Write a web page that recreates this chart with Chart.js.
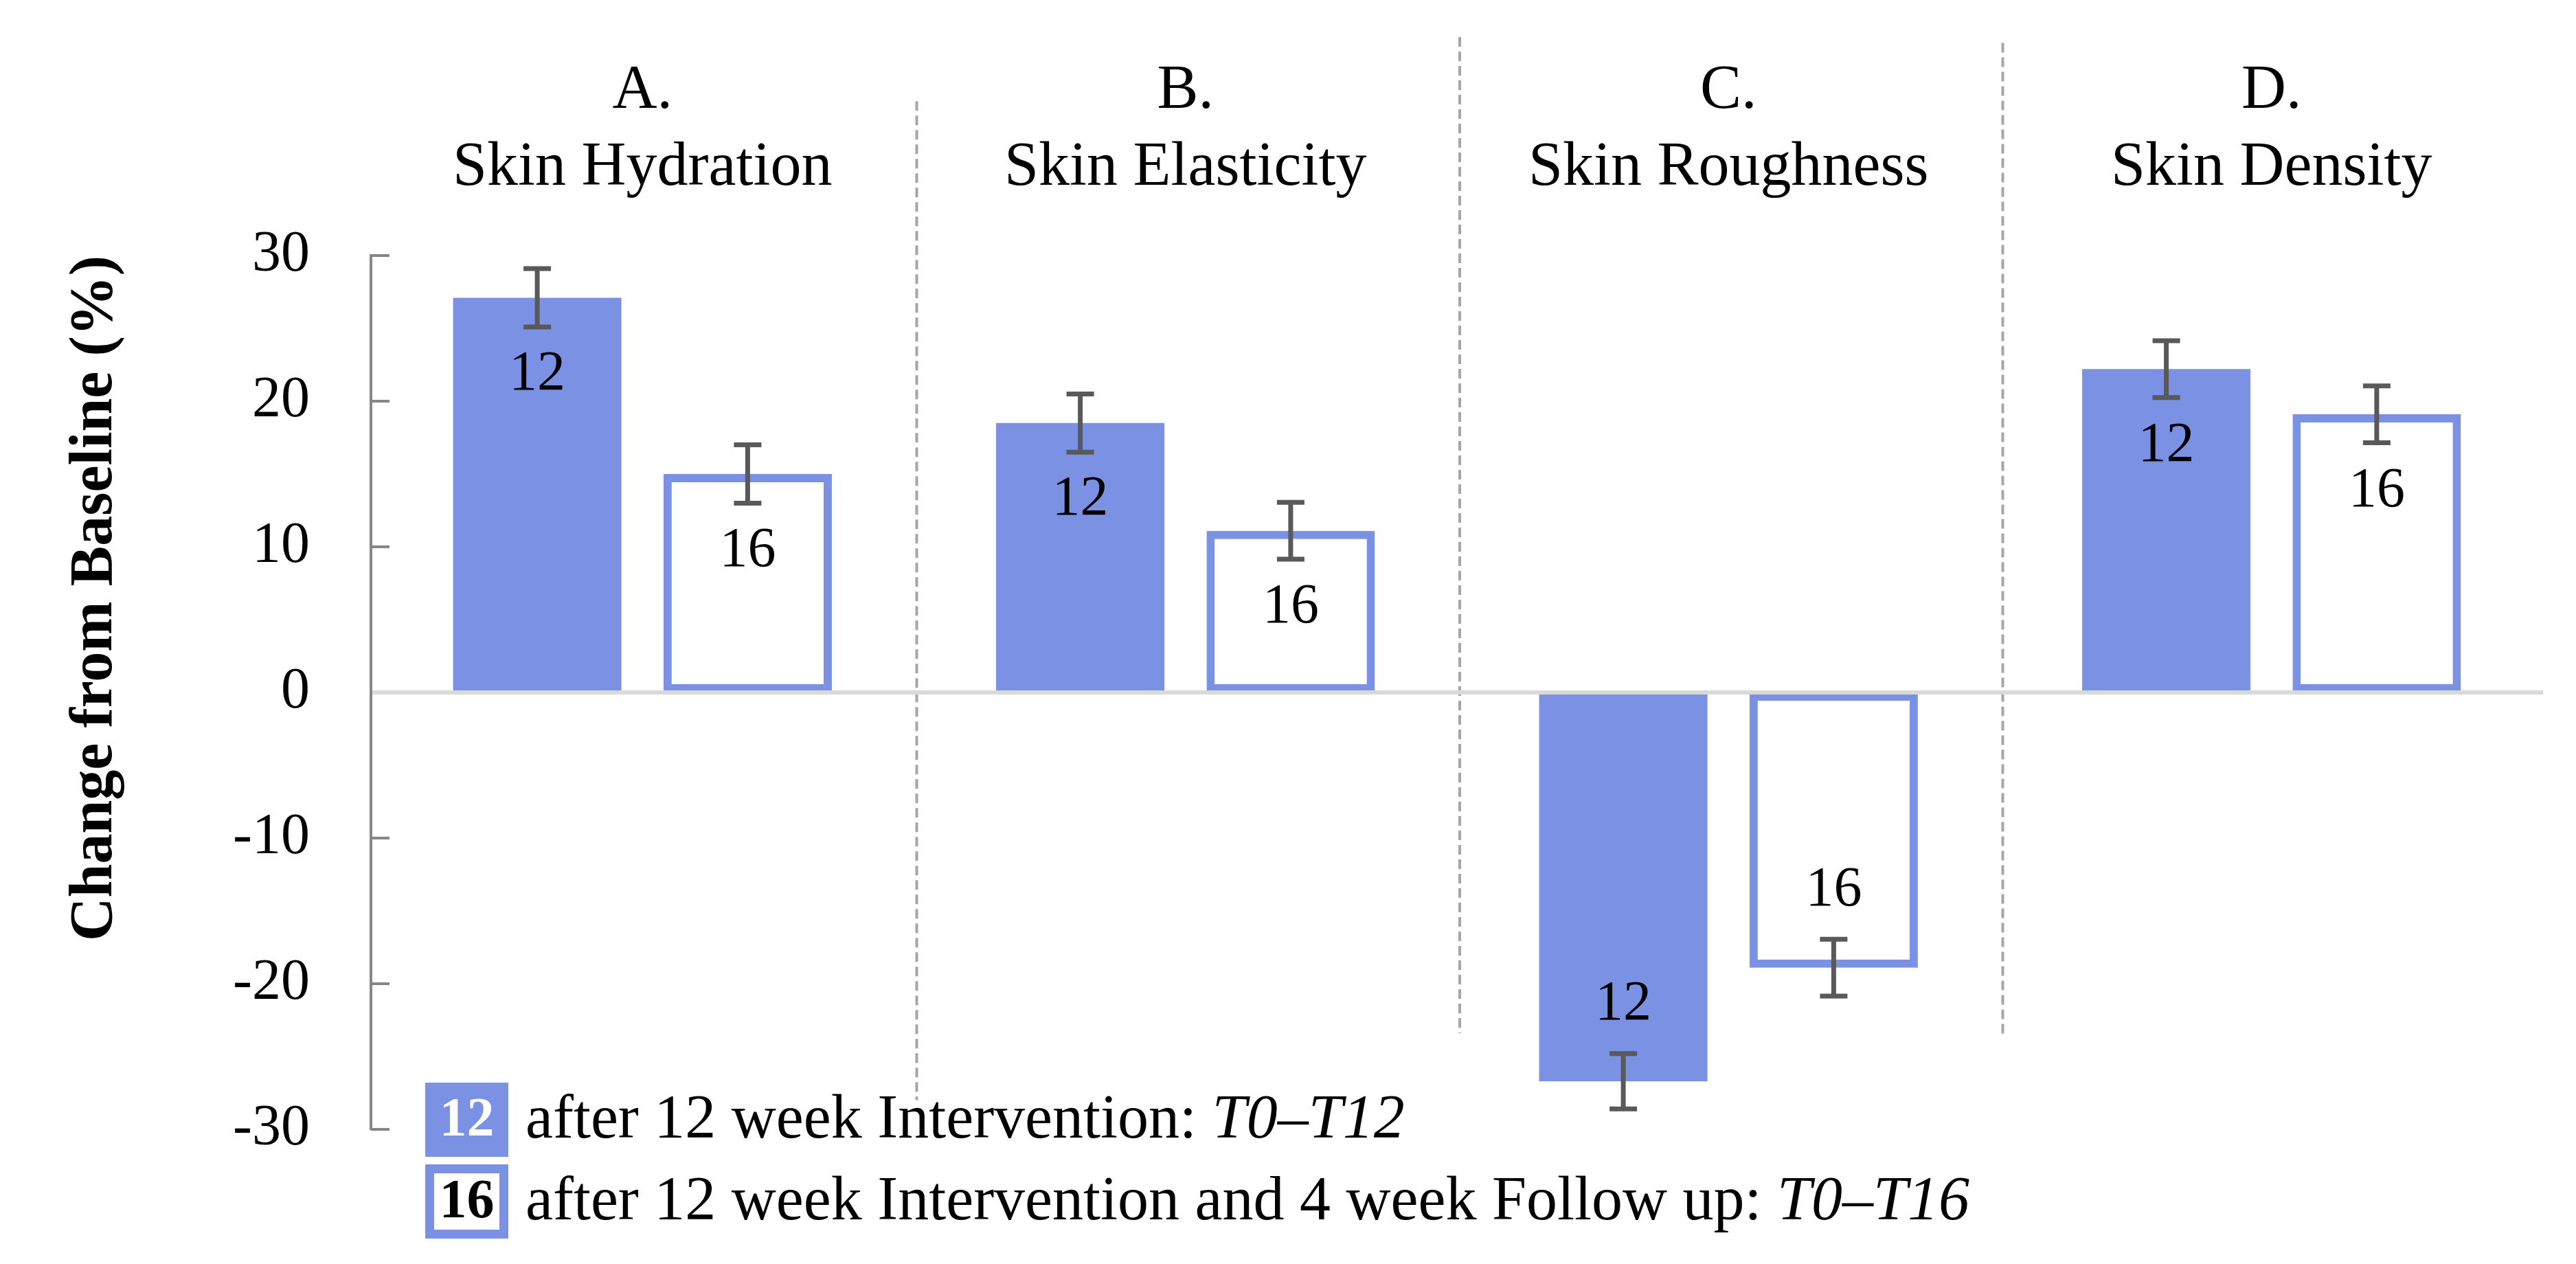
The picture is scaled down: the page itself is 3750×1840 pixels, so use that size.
<!DOCTYPE html>
<html>
<head>
<meta charset="utf-8">
<script src="https://cdn.jsdelivr.net/npm/chart.js@4/dist/chart.umd.min.js"></script>
<style>
html, body { margin: 0; padding: 0; background: #fff; }
#wrap { width: 3750px; height: 1840px; }
</style>
</head>
<body>
<div id="wrap"><canvas id="cntx_skin"></canvas></div>
<script>
// data
const categories = [["A.", "Skin Hydration"], ["B.", "Skin Elasticity"], ["C.", "Skin Roughness"], ["D.", "Skin Density"]];
const series_codes = ["12", "16"];
const week12_values = [27.1, 18.5, -26.7, 22.2];
const week12_errors = [2.0, 2.0, 1.9, 1.95];
const week16_values = [15.0, 11.1, -18.9, 19.1];
const week16_errors = [2.0, 1.95, 1.95, 1.95];
const y_ticks = [-30, -20, -10, 0, 10, 20, 30];
const legend_texts = ["after 12 week Intervention: ", "after 12 week Intervention and 4 week Follow up: "];
const legend_periods = ["T0\u2013T12", "T0\u2013T16"];

const FONT = "'Liberation Serif', 'Times New Roman', serif";
const BLUE = "#7b91e3";
const ERR = "#595959";
// dashed separators between panels, extent in axis units (top, bottom)
const divider_tops = [40.6, 45.0, 44.6];
const divider_bottoms = [-28.0, -23.4, -23.7];

const errors = [week12_errors, week16_errors];

const decor = {
	id: "decor",
	beforeDatasetsDraw(chart) {
		const ctx = chart.ctx;
		const y = chart.scales.y;
		const x = chart.scales.x;
		const left = chart.chartArea.left;
		ctx.save();
		// inward tick marks
		ctx.strokeStyle = "#868686";
		ctx.lineWidth = 4;
		y_ticks.forEach((v) => {
			const py = y.getPixelForValue(v);
			ctx.beginPath();
			ctx.moveTo(left, py);
			ctx.lineTo(left + 27, py);
			ctx.stroke();
		});
		// panel separators
		ctx.strokeStyle = "#a6a6a6";
		ctx.lineWidth = 4;
		ctx.setLineDash([14, 7]);
		for (let i = 0; i < categories.length - 1; i++) {
			const px = (x.getPixelForValue(i) + x.getPixelForValue(i + 1)) / 2 + 4;
			ctx.beginPath();
			ctx.moveTo(px, y.getPixelForValue(divider_tops[i]));
			ctx.lineTo(px, y.getPixelForValue(divider_bottoms[i]));
			ctx.stroke();
		}
		ctx.restore();
	},
	afterDatasetsDraw(chart) {
		const ctx = chart.ctx;
		const y = chart.scales.y;
		const area = chart.chartArea;
		ctx.save();
		// zero line on top of the bars
		const y0 = y.getPixelForValue(0);
		ctx.strokeStyle = "#d9d9d9";
		ctx.lineWidth = 6;
		ctx.beginPath();
		ctx.moveTo(area.left + 2, y0);
		ctx.lineTo(area.right, y0);
		ctx.stroke();

		chart.data.datasets.forEach((ds, di) => {
			const meta = chart.getDatasetMeta(di);
			meta.data.forEach((bar, j) => {
				const v = ds.data[j];
				const e = errors[di][j];
				const top = y.getPixelForValue(v + e);
				const bot = y.getPixelForValue(v - e);
				// error bar
				ctx.strokeStyle = ERR;
				ctx.lineWidth = 7;
				ctx.beginPath();
				ctx.moveTo(bar.x, top);
				ctx.lineTo(bar.x, bot);
				ctx.moveTo(bar.x - 20, top);
				ctx.lineTo(bar.x + 20, top);
				ctx.moveTo(bar.x - 20, bot);
				ctx.lineTo(bar.x + 20, bot);
				ctx.stroke();
				// value label inside the bar end
				const end = y.getPixelForValue(v);
				ctx.fillStyle = "#000";
				ctx.font = "82px " + FONT;
				ctx.textAlign = "center";
				ctx.textBaseline = "middle";
				ctx.fillText(series_codes[di], bar.x, v >= 0 ? end + 112 : end - 112);
			});
		});

		// legend
		const bx = area.left + 79;
		const bw = 121;
		const bh = 108;
		legend_texts.forEach((t, i) => {
			const by = area.bottom - 68 + i * 119;
			const cy = by + bh / 2 + 2;
			ctx.fillStyle = BLUE;
			ctx.fillRect(bx, by, bw, bh);
			if (i === 1) {
				ctx.fillStyle = "#fff";
				ctx.fillRect(bx + 13, by + 13, bw - 26, bh - 26);
			}
			ctx.fillStyle = i === 0 ? "#fff" : "#000";
			ctx.font = "bold 80px " + FONT;
			ctx.textAlign = "center";
			ctx.textBaseline = "middle";
			ctx.fillText(series_codes[i], bx + bw / 2, cy);
			ctx.fillStyle = "#000";
			ctx.textAlign = "left";
			ctx.font = "90px " + FONT;
			ctx.fillText(t, bx + 146, cy);
			const w = ctx.measureText(t).width;
			ctx.font = "italic 90px " + FONT;
			ctx.fillText(legend_periods[i], bx + 146 + w, cy);
		});
		ctx.restore();
	},
};

const drawChart = (canvas) => {
	return new Chart(canvas, {
		type: "bar",
		data: {
			labels: categories,
			datasets: [
				{
					label: series_codes[0],
					data: week12_values,
					backgroundColor: BLUE,
					borderWidth: 0,
				},
				{
					label: series_codes[1],
					data: week16_values,
					backgroundColor: "#ffffff",
					borderColor: BLUE,
					borderWidth: 12,
					borderSkipped: false,
				},
			],
		},
		options: {
			responsive: false,
			animation: false,
			devicePixelRatio: 1,
			categoryPercentage: 0.775,
			barPercentage: 0.8,
			layout: { padding: { left: 0, right: 48, top: 0, bottom: 196 } },
			plugins: {
				legend: { display: false },
				tooltip: { enabled: false },
			},
			scales: {
				x: {
					position: "top",
					grid: { display: false, drawTicks: false },
					border: { display: false },
					ticks: {
						color: "#000",
						padding: 70,
						maxRotation: 0,
						font: { family: FONT, size: 90, lineHeight: 1.25 },
					},
					afterFit: (s) => { s.height = 372; },
				},
				y: {
					min: y_ticks[0],
					max: y_ticks[y_ticks.length - 1],
					ticks: {
						stepSize: 10,
						color: "#000",
						padding: 89,
						font: { family: FONT, size: 84 },
					},
					grid: { display: false, drawTicks: false },
					border: { display: true, color: "#868686", width: 4 },
					title: {
						display: true,
						text: "Change from Baseline (%)",
						align: "end",
						color: "#000",
						font: { family: FONT, size: 88, weight: "bold", lineHeight: 1.2 },
						padding: { top: 86, bottom: 0 },
					},
					afterFit: (s) => { s.width = 540; },
				},
			},
		},
		plugins: [decor],
	});
};

const cv = document.querySelector("#cntx_skin");
cv.width = 3750;
cv.height = 1840;
drawChart(cv);
</script>
</body>
</html>
